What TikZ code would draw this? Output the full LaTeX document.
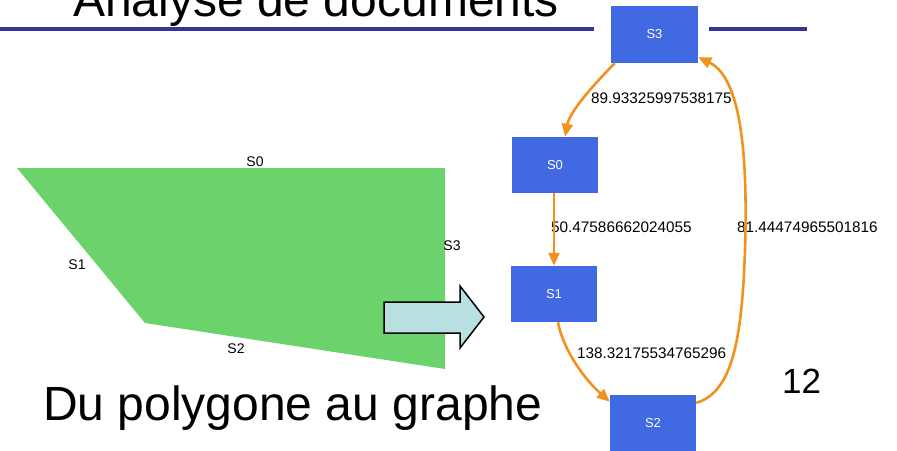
\documentclass[tikz,border=0pt]{standalone}
\usepackage{fontspec}
\setmainfont{Liberation Sans}
\usetikzlibrary{arrows.meta}
\definecolor{navyline}{RGB}{51,51,153}
\definecolor{polygreen}{RGB}{108,210,108}
\definecolor{arrowfill}{RGB}{185,224,224}
\definecolor{boxblue}{RGB}{65,105,225}
\definecolor{edgeorange}{RGB}{242,146,30}
\tikzset{
  bigtext/.style={font=\fontsize{48}{48}\selectfont, inner sep=0pt, anchor=base west},
  sidelabel/.style={font=\fontsize{14}{14}\selectfont, inner sep=0pt},
  gnode/.style={fill=boxblue, text=white, inner sep=0pt, minimum width=86pt, minimum height=56pt, font=\fontsize{13}{13}\selectfont},
  elabel/.style={font=\fontsize{15.3}{15.3}\selectfont, inner sep=0pt, anchor=west},
  edge/.style={draw=edgeorange, line width=2.6pt, -{Triangle[length=13pt,width=11pt]}},
}
\begin{document}
\begin{tikzpicture}[x=1pt,y=-1pt]
\useasboundingbox (0,0) rectangle (897,450);
% title and rule
\node[bigtext] (title) at (73,16) {Analyse de documents};
\draw[navyline, line width=4pt] (0,29) -- (594,29);
\draw[navyline, line width=4pt] (709,29) -- (807,29);
% polygon
\fill[polygreen] (17,168) -- (445,168) -- (445,369) -- (145,323) -- cycle;
\node[sidelabel] (p0) at (255,162) {S0};
\node[sidelabel] (p1) at (77,265) {S1};
\node[sidelabel] (p3) at (452,246) {S3};
\node[sidelabel] (p2) at (236,349) {S2};
% block arrow
\draw[fill=arrowfill, draw=black, line width=1.5pt, line join=miter]
  (384,302) -- (460,302) -- (460,286) -- (484,317) -- (460,348) -- (460,333) -- (384,333) -- cycle;
% texts
\node[bigtext] (sub) at (43,420) {Du polygone au graphe};
\node[font=\fontsize{35}{35}\selectfont, inner sep=0pt, anchor=base west] (num) at (782,393) {12};
% graph nodes
\node[gnode, minimum width=87pt, minimum height=57pt] (S3) at (654.5,34.5) {S3};
\node[gnode] (S0) at (555,165) {S0};
\node[gnode] (S1) at (554,294) {S1};
\node[gnode, minimum height=57pt] (S2) at (653,423.5) {S2};
% edge labels
\node[elabel] (l30) at (591,98) {89.93325997538175};
\node[elabel] (l01) at (551,227) {50.47586662024055};
\node[elabel] (l23) at (737,227) {81.44474965501816};
\node[elabel] (l12) at (577,353) {138.32175534765296};
% edges
\draw[edge] ([xshift=4pt]S3.south west) .. controls (600,78) and (570,110) .. ([xshift=10pt]S0.north);
\draw[edge] ([xshift=-1pt]S0.south) -- (S1.north);
\draw[edge] ([xshift=4pt]S1.south) .. controls (562,345) and (580,375) .. ([yshift=-7pt]S2.north west);
\draw[edge] ([yshift=-8pt]S2.north east) .. controls (735,392) and (742,330) .. (745,250)
  .. controls (747,180) and (746,80) .. ([yshift=6pt]S3.south east);
\end{tikzpicture}
\end{document}
